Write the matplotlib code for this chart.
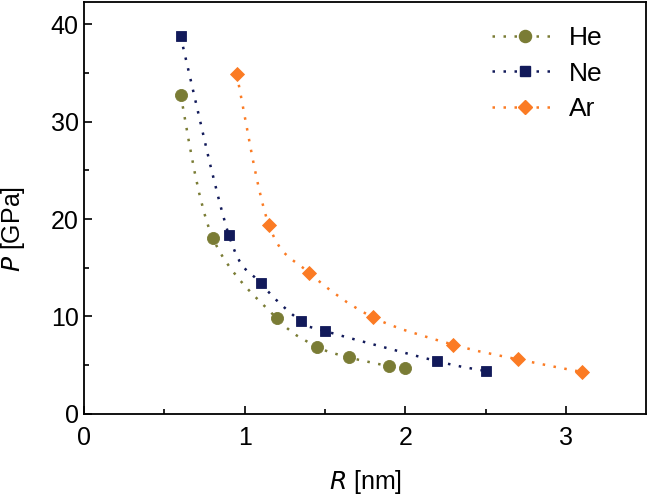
import numpy as np
import matplotlib
matplotlib.use("Agg")
import matplotlib.pyplot as plt
from matplotlib.path import Path
from matplotlib.patches import PathPatch
from matplotlib.lines import Line2D

plt.rcParams['font.family'] = ['Liberation Sans', 'DejaVu Sans']

# datos
r_he = [0.6, 0.8, 1.2, 1.45, 1.65, 1.9, 2.0]
p_he = [32.7, 18.1, 9.8, 6.9, 5.8, 4.9, 4.7]

r_ne = [0.6, 0.9, 1.1, 1.35, 1.5, 2.2, 2.5]
p_ne = [38.8, 18.4, 13.4, 9.5, 8.5, 5.4, 4.4]

r_ar = [0.95, 1.15, 1.4, 1.8, 2.3, 2.7, 3.1]
p_ar = [34.9, 19.4, 14.5, 9.9, 7.1, 5.6, 4.3]

series = [
    ('He', r_he, p_he, 'o', '#7a7c35', 8.7),
    ('Ne', r_ne, p_ne, 's', '#121a5a', 6.8),
    ('Ar', r_ar, p_ar, 'D', '#fb7b24', 7.5),
]


def spline_path(x, y):
    # curva suave (Catmull-Rom -> Bezier) que pasa por los puntos
    pts = np.column_stack([x, y])
    n = len(pts)
    verts = [pts[0]]
    codes = [Path.MOVETO]
    for i in range(n - 1):
        p0 = pts[i - 1] if i > 0 else pts[i]
        p1 = pts[i]
        p2 = pts[i + 1]
        p3 = pts[i + 2] if i + 2 < n else pts[i + 1]
        c1 = p1 + (p2 - p0) / 6.0
        c2 = p2 - (p3 - p1) / 6.0
        verts += [c1, c2, p2]
        codes += [Path.CURVE4] * 3
    return Path(verts, codes)


fig = plt.figure(figsize=(6.48, 4.98), dpi=100)
ax = fig.add_axes([0.13, 0.169, 0.867, 0.827])

dots = (0, (1, 3.4))
lw = 1.8
handles = []
for name, x, y, m, c, ms in series:
    patch = PathPatch(spline_path(x, y), facecolor='none', edgecolor=c,
                      lw=lw, linestyle=dots, capstyle='butt', zorder=2)
    ax.add_patch(patch)
    ax.plot(x, y, linestyle='none', marker=m, color=c, markersize=ms,
            markeredgewidth=0.6, zorder=3)
    handles.append(Line2D([], [], color=c, lw=lw, linestyle=dots,
                          marker=m, markersize=ms, label=name))

ax.set_xlim(0, 3.5)
ax.set_ylim(0, 42.3)
ax.set_xticks([0, 1, 2, 3])
ax.set_xticks([0.5, 1.5, 2.5], minor=True)
ax.set_yticks([0, 10, 20, 30, 40])
ax.set_yticks([5, 15, 25, 35], minor=True)
ax.tick_params(which='both', direction='in', labelsize=18, width=1.2)
ax.tick_params(axis='x', which='both', pad=9)
ax.tick_params(axis='y', which='both', pad=4)
ax.tick_params(which='major', length=6)
ax.tick_params(which='minor', length=3.5)
for s in ax.spines.values():
    s.set_linewidth(1.3)

ax.set_xlabel(r'$\it{R}$ [nm]', fontsize=18)
ax.set_ylabel(r'$\it{P}$ [GPa]', fontsize=18)
ax.xaxis.set_label_coords(0.5, -0.132)
ax.yaxis.set_label_coords(-0.102, 0.45)

ax.legend(handles=handles, loc='upper right', bbox_to_anchor=(0.964, 1.0),
          frameon=False, fontsize=19, handlelength=2.5, handletextpad=0.4,
          labelspacing=0.45, borderaxespad=0.5)

fig.savefig('out.png', dpi=100)
